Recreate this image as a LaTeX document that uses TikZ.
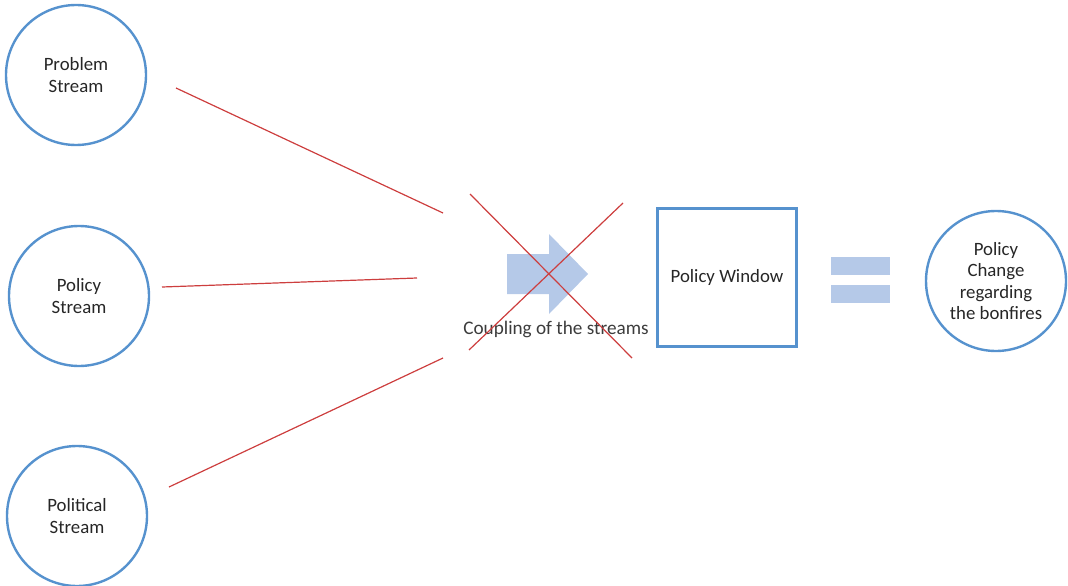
\documentclass[tikz,border=0pt]{standalone}
\usepackage{fontspec}
\setmainfont{Carlito}
\definecolor{cblue}{RGB}{86,146,206}
\definecolor{cred}{RGB}{205,62,62}
\definecolor{cfill}{RGB}{181,201,232}
\definecolor{ctext}{RGB}{38,38,38}
\begin{document}
\begin{tikzpicture}[x=1pt,y=-1pt,
  stream/.style={circle,draw=cblue,line width=2.4pt,minimum size=140pt,inner sep=0pt,align=center,text=ctext,font=\fontsize{18.8}{21.5}\selectfont},
  winbox/.style={rectangle,draw=cblue,line width=2.4pt,minimum width=139pt,minimum height=138pt,inner sep=0pt,align=center,text=ctext,font=\fontsize{18.8}{21.5}\selectfont},
  redline/.style={draw=cred,line width=1.2pt},
  bar/.style={fill=cfill,draw=none}]
\useasboundingbox (0,0) rectangle (1068,586);
\node[stream] (problem) at (76,75) {Problem\\Stream};
\node[stream] (policy) at (79,296) {Policy\\Stream};
\node[stream] (political) at (77,516) {Political\\Stream};
\node[winbox] (window) at (727,277.5) {Policy Window};
\node[stream] (change) at (996,281) {Policy\\Change\\regarding\\the bonfires};
% arrow
\fill[cfill] (507,254) -- (549,254) -- (549,234) -- (588,274) -- (549,314) -- (549,294) -- (507,294) -- cycle;
\node[text=ctext!90,font=\fontsize{19.2}{21}\selectfont,inner sep=0pt] (coupling) at (556,329) {Coupling of the streams};
% equal sign
\fill[bar] (831,257) rectangle (890,275);
\fill[bar] (831,285) rectangle (890,303);
% red lines
\coordinate (a1) at (176,88); \coordinate (a2) at (443,213);
\coordinate (b1) at (162,287); \coordinate (b2) at (417,278);
\coordinate (c1) at (169,487); \coordinate (c2) at (443,358);
\coordinate (x1) at (470,194); \coordinate (x2) at (632,358);
\coordinate (y1) at (469,350); \coordinate (y2) at (623,203);
\draw[redline] (a1) -- (a2);
\draw[redline] (b1) -- (b2);
\draw[redline] (c1) -- (c2);
\draw[redline] (x1) -- (x2);
\draw[redline] (y1) -- (y2);
\end{tikzpicture}
\end{document}
